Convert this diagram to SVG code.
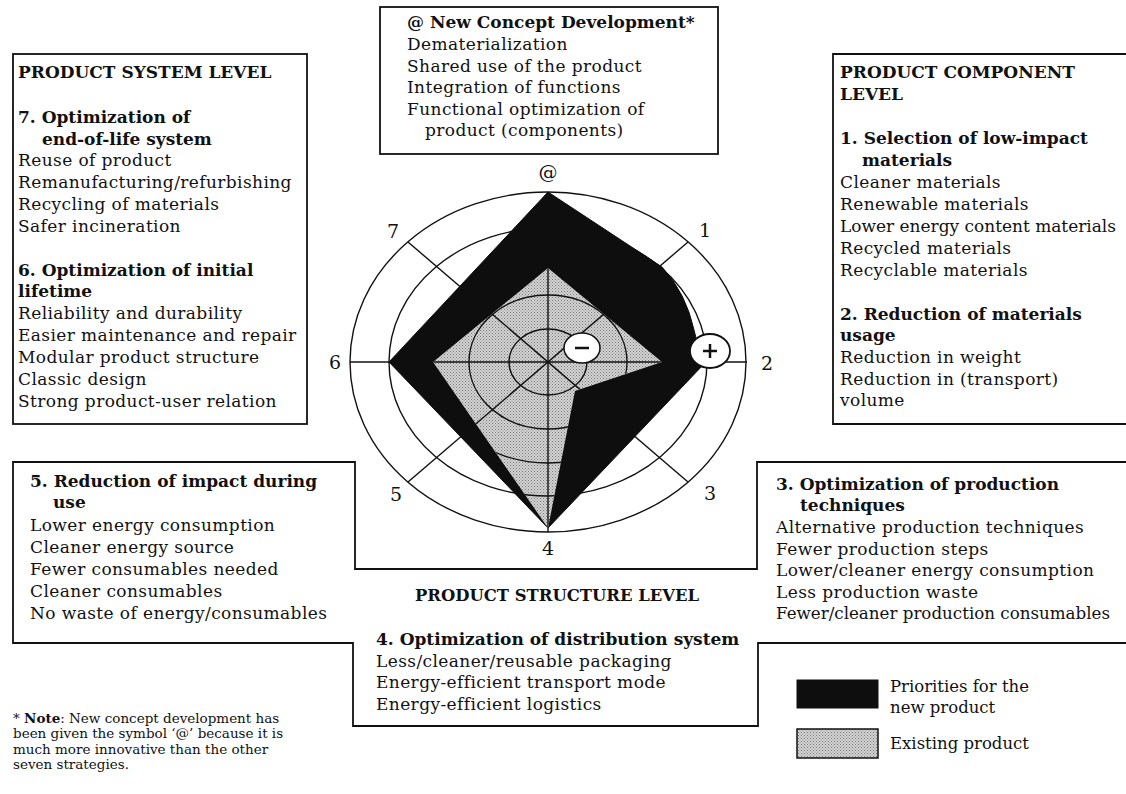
<svg xmlns="http://www.w3.org/2000/svg" width="1126" height="794" viewBox="0 0 1126 794">
<style>
.t{font-family:"DejaVu Serif",serif;font-size:17px;fill:#111;letter-spacing:0.4px}
.b{font-weight:bold;letter-spacing:0}
.n{font-family:"DejaVu Serif",serif;font-size:19px;fill:#111;text-anchor:middle}
.box{fill:none;stroke:#111;stroke-width:1.8}
.ring{fill:none;stroke:#111;stroke-width:1.4}
.ax{stroke:#111;stroke-width:1.4}
.lg{font-family:"DejaVu Serif",serif;font-size:16.5px;fill:#111}
.nt{font-family:"DejaVu Serif",serif;font-size:13.5px;fill:#111}
</style>
<defs>
<pattern id="stip" width="3" height="3" patternUnits="userSpaceOnUse">
<rect width="3" height="3" fill="#d2d2d2"/>
<rect x="0" y="0" width="1" height="1" fill="#7a7a7a"/>
<rect x="1.5" y="1.5" width="1" height="1" fill="#8a8a8a"/>
</pattern>
<clipPath id="gclip"><path d="M548,268 L662,362 L575,391 L548,528 L433,362 Z"/></clipPath>
</defs>

<g id="top-box">
<rect class="box" x="380" y="7" width="338" height="147"/>
<text class="t b" x="407" y="28">@ New Concept Development*</text>
<text class="t" x="407" y="50">Dematerialization</text>
<text class="t" x="407" y="72">Shared use of the product</text>
<text class="t" x="407" y="93">Integration of functions</text>
<text class="t" x="407" y="115">Functional optimization of</text>
<text class="t" x="425" y="136">product (components)</text>
</g>

<g id="system-level">
<rect class="box" x="13" y="54" width="294" height="370"/>
<text class="t b" x="18" y="78">PRODUCT SYSTEM LEVEL</text>
<text class="t b" x="18" y="123">7. Optimization of</text>
<text class="t b" x="42" y="145">end-of-life system</text>
<text class="t" x="18" y="166">Reuse of product</text>
<text class="t" x="18" y="188">Remanufacturing/refurbishing</text>
<text class="t" x="18" y="210">Recycling of materials</text>
<text class="t" x="18" y="232">Safer incineration</text>
<text class="t b" x="18" y="276">6. Optimization of initial</text>
<text class="t b" x="18" y="297">lifetime</text>
<text class="t" x="18" y="319">Reliability and durability</text>
<text class="t" x="18" y="341">Easier maintenance and repair</text>
<text class="t" x="18" y="363">Modular product structure</text>
<text class="t" x="18" y="385">Classic design</text>
<text class="t" x="18" y="407">Strong product-user relation</text>
</g>

<g id="component-level">
<path class="box" d="M1127,54 H833 V424 H1127"/>
<text class="t b" x="840" y="78">PRODUCT COMPONENT</text>
<text class="t b" x="840" y="100">LEVEL</text>
<text class="t b" x="840" y="144">1. Selection of low-impact</text>
<text class="t b" x="862" y="166">materials</text>
<text class="t" x="840" y="188">Cleaner materials</text>
<text class="t" x="840" y="210">Renewable materials</text>
<text class="t" x="840" y="232" style="letter-spacing:0" textLength="276" lengthAdjust="spacingAndGlyphs">Lower energy content materials</text>
<text class="t" x="840" y="254">Recycled materials</text>
<text class="t" x="840" y="276">Recyclable materials</text>
<text class="t b" x="840" y="320">2. Reduction of materials</text>
<text class="t b" x="840" y="341">usage</text>
<text class="t" x="840" y="363">Reduction in weight</text>
<text class="t" x="840" y="385">Reduction in (transport)</text>
<text class="t" x="840" y="406">volume</text>
</g>

<g id="structure-outline">
<path class="box" d="M1127,462 H757 V569 H355 V462 H13 V643 H353 V726 H758 V643 H1127"/>
</g>

<g id="use-box">
<text class="t b" x="30" y="487">5. Reduction of impact during</text>
<text class="t b" x="53" y="508">use</text>
<text class="t" x="30" y="531">Lower energy consumption</text>
<text class="t" x="30" y="553">Cleaner energy source</text>
<text class="t" x="30" y="575">Fewer consumables needed</text>
<text class="t" x="30" y="597">Cleaner consumables</text>
<text class="t" x="30" y="619">No waste of energy/consumables</text>
</g>

<g id="production-box">
<text class="t b" x="776" y="490">3. Optimization of production</text>
<text class="t b" x="800" y="511">techniques</text>
<text class="t" x="776" y="533">Alternative production techniques</text>
<text class="t" x="776" y="555">Fewer production steps</text>
<text class="t" x="776" y="576">Lower/cleaner energy consumption</text>
<text class="t" x="776" y="598">Less production waste</text>
<text class="t" x="776" y="619" style="letter-spacing:0" textLength="334" lengthAdjust="spacingAndGlyphs">Fewer/cleaner production consumables</text>
</g>

<g id="structure-level">
<text class="t b" x="557" y="601" text-anchor="middle" textLength="284" lengthAdjust="spacingAndGlyphs">PRODUCT STRUCTURE LEVEL</text>
</g>

<g id="distribution-box">
<text class="t b" x="376" y="645">4. Optimization of distribution system</text>
<text class="t" x="376" y="667">Less/cleaner/reusable packaging</text>
<text class="t" x="376" y="688">Energy-efficient transport mode</text>
<text class="t" x="376" y="710">Energy-efficient logistics</text>
</g>

<g id="radar">
<g id="grid">
<ellipse class="ring" cx="548" cy="362" rx="198" ry="170"/>
<ellipse class="ring" cx="548" cy="362" rx="159" ry="134"/>
<line class="ax" x1="350" y1="362" x2="747" y2="362"/>
<line class="ax" x1="548" y1="192" x2="548" y2="532"/>
<line class="ax" x1="408" y1="242" x2="688" y2="482"/>
<line class="ax" x1="688" y1="242" x2="408" y2="482"/>
</g>
<path id="new-product" d="M548,192 L662,267 Q686,293 694,330 L703,365 L548,528 L389,362 Z" fill="#0e0e0e" stroke="#0e0e0e" stroke-width="1" stroke-linejoin="round"/>
<path id="existing-product" d="M548,268 L662,362 L575,391 L548,528 L433,362 Z" fill="url(#stip)"/>
<g clip-path="url(#gclip)">
<ellipse class="ring" cx="548" cy="362" rx="39" ry="33"/>
<ellipse class="ring" cx="548" cy="362" rx="79" ry="67"/>
<ellipse class="ring" cx="548" cy="362" rx="119" ry="101"/>
<ellipse class="ring" cx="548" cy="362" rx="159" ry="134"/>
<line class="ax" x1="350" y1="362" x2="747" y2="362"/>
<line class="ax" x1="548" y1="192" x2="548" y2="532"/>
<line class="ax" x1="408" y1="242" x2="688" y2="482"/>
<line class="ax" x1="688" y1="242" x2="408" y2="482"/>
</g>
<g id="minus">
<ellipse cx="582" cy="348" rx="18" ry="15" fill="#fff" stroke="#111" stroke-width="1.5"/>
<line x1="575" y1="348" x2="589" y2="348" stroke="#111" stroke-width="2.5"/>
</g>
<g id="plus">
<ellipse cx="710" cy="351" rx="20" ry="17" fill="#fff" stroke="#111" stroke-width="1.8"/>
<line x1="703" y1="351" x2="717" y2="351" stroke="#111" stroke-width="2.5"/>
<line x1="710" y1="344" x2="710" y2="358" stroke="#111" stroke-width="2.5"/>
</g>
<text class="n" x="548" y="179">@</text>
<text class="n" x="393" y="238">7</text>
<text class="n" x="705" y="237">1</text>
<text class="n" x="335" y="369">6</text>
<text class="n" x="767" y="370">2</text>
<text class="n" x="396" y="501">5</text>
<text class="n" x="710" y="500">3</text>
<text class="n" x="548" y="555">4</text>
</g>

<g id="legend">
<rect x="797" y="680" width="81" height="28" fill="#0e0e0e" stroke="#111" stroke-width="1"/>
<text class="lg" x="890" y="692">Priorities for the</text>
<text class="lg" x="890" y="713">new product</text>
<rect x="797" y="729" width="81" height="29" fill="url(#stip)" stroke="#111" stroke-width="1.5"/>
<text class="lg" x="890" y="749">Existing product</text>
</g>

<g id="note">
<text class="nt" x="13" y="723">* <tspan font-weight="bold">Note</tspan>: New concept development has</text>
<text class="nt" x="13" y="738">been given the symbol ‘@’ because it is</text>
<text class="nt" x="13" y="754">much more innovative than the other</text>
<text class="nt" x="13" y="769">seven strategies.</text>
</g>
</svg>
